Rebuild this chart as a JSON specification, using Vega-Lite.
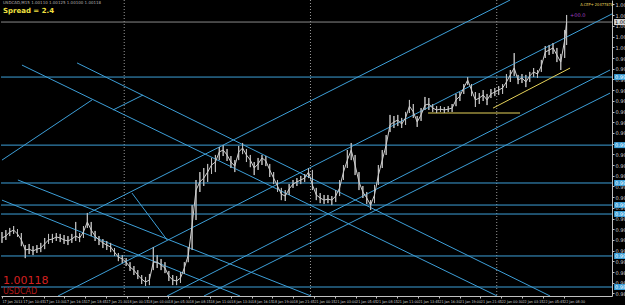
{
"$schema": "https://vega.github.io/schema/vega-lite/v6.json",
"width": 611, "height": 296,
"autosize": {"type": "none"},
"padding": {"left": 1, "top": 0, "right": 13, "bottom": 9},
"background": "#000000",
"config": {"view": {"stroke": null}, "font": "DejaVu Sans",
  "axis": {"labelOverlap": false, "labelFontSize": 5, "labelColor": "#d0d0d0", "labelPadding": 1, "tickSize": 2, "tickColor": "#c0c0c0", "domainColor": "#c0c0c0", "grid": false, "title": null, "labelFlush": false, "labelBound": false}},
"datasets": {
"px": [
{"b":0,"c":0.99109,"h":0.99137,"l":0.99086},{"b":2,"c":0.99118,"h":0.99146,"l":0.991},{"b":4,"c":0.99137,"h":0.99156,"l":0.99118},{"b":6,"c":0.99146,"h":0.99165,"l":0.99128},{"b":8,"c":0.99128,"h":0.99151,"l":0.99114},{"b":10,"c":0.991,"h":0.99132,"l":0.99071},{"b":12,"c":0.99053,"h":0.99076,"l":0.99015},{"b":14,"c":0.99057,"h":0.99081,"l":0.99034},{"b":16,"c":0.99048,"h":0.99071,"l":0.99029},{"b":18,"c":0.99057,"h":0.99076,"l":0.99039},{"b":20,"c":0.99062,"h":0.99086,"l":0.99043},{"b":22,"c":0.99081,"h":0.99109,"l":0.99057},{"b":24,"c":0.991,"h":0.99128,"l":0.99081},{"b":26,"c":0.99104,"h":0.99128,"l":0.99086},{"b":28,"c":0.99114,"h":0.99132,"l":0.99095},{"b":30,"c":0.99109,"h":0.99128,"l":0.9909},{"b":32,"c":0.991,"h":0.99123,"l":0.99081},{"b":34,"c":0.99095,"h":0.99118,"l":0.99076},{"b":36,"c":0.99104,"h":0.99128,"l":0.99086},{"b":38,"c":0.99118,"h":0.99184,"l":0.99095},{"b":40,"c":0.99109,"h":0.99132,"l":0.9909},{"b":42,"c":0.99137,"h":0.99165,"l":0.99109},{"b":44,"c":0.99184,"h":0.99226,"l":0.99156},{"b":46,"c":0.99146,"h":0.99184,"l":0.99118},{"b":48,"c":0.99118,"h":0.99142,"l":0.99095},{"b":50,"c":0.991,"h":0.99118,"l":0.99076},{"b":52,"c":0.99086,"h":0.99104,"l":0.99062},{"b":54,"c":0.99076,"h":0.99095,"l":0.99053},{"b":56,"c":0.99067,"h":0.99086,"l":0.99043},{"b":58,"c":0.99043,"h":0.99062,"l":0.99025},{"b":60,"c":0.9902,"h":0.99039,"l":0.99001},{"b":62,"c":0.99011,"h":0.99029,"l":0.98991},{"b":64,"c":0.98996,"h":0.99015,"l":0.98978},{"b":66,"c":0.98973,"h":0.98996,"l":0.98955},{"b":68,"c":0.98959,"h":0.98978,"l":0.98936},{"b":70,"c":0.98936,"h":0.98959,"l":0.98917},{"b":72,"c":0.98917,"h":0.98936,"l":0.98894},{"b":74,"c":0.98903,"h":0.98927,"l":0.98885},{"b":76,"c":0.98913,"h":0.98941,"l":0.98889},{"b":78,"c":0.98996,"h":0.99067,"l":0.98959},{"b":80,"c":0.98996,"h":0.99029,"l":0.98969},{"b":82,"c":0.98983,"h":0.99011,"l":0.98959},{"b":84,"c":0.98969,"h":0.98996,"l":0.98945},{"b":86,"c":0.98931,"h":0.98955,"l":0.98908},{"b":88,"c":0.98913,"h":0.98936,"l":0.98889},{"b":90,"c":0.98908,"h":0.98931,"l":0.98889},{"b":92,"c":0.98922,"h":0.9895,"l":0.98899},{"b":94,"c":0.98969,"h":0.98996,"l":0.98941},{"b":96,"c":0.99029,"h":0.99067,"l":0.98996},{"b":98,"c":0.9917,"h":0.99263,"l":0.99053},{"b":100,"c":0.99333,"h":0.9938,"l":0.99193},{"b":102,"c":0.99371,"h":0.99417,"l":0.99324},{"b":104,"c":0.99389,"h":0.99436,"l":0.99352},{"b":106,"c":0.99417,"h":0.99455,"l":0.99371},{"b":108,"c":0.9945,"h":0.99483,"l":0.99408},{"b":110,"c":0.99464,"h":0.99497,"l":0.99417},{"b":112,"c":0.99511,"h":0.99534,"l":0.99473},{"b":114,"c":0.9952,"h":0.99543,"l":0.99492},{"b":116,"c":0.99497,"h":0.99525,"l":0.99469},{"b":118,"c":0.99464,"h":0.99492,"l":0.99436},{"b":120,"c":0.99445,"h":0.99473,"l":0.99417},{"b":122,"c":0.99511,"h":0.99539,"l":0.99473},{"b":124,"c":0.99529,"h":0.99553,"l":0.99501},{"b":126,"c":0.99497,"h":0.99525,"l":0.99464},{"b":128,"c":0.99473,"h":0.99497,"l":0.9944},{"b":130,"c":0.99436,"h":0.99464,"l":0.99403},{"b":132,"c":0.99455,"h":0.99483,"l":0.99427},{"b":134,"c":0.99483,"h":0.99497,"l":0.9945},{"b":136,"c":0.99469,"h":0.99492,"l":0.99445},{"b":138,"c":0.99427,"h":0.99455,"l":0.99394},{"b":140,"c":0.99389,"h":0.99417,"l":0.99361},{"b":142,"c":0.99352,"h":0.9938,"l":0.99324},{"b":144,"c":0.99314,"h":0.99343,"l":0.99286},{"b":146,"c":0.99305,"h":0.99333,"l":0.99282},{"b":148,"c":0.99338,"h":0.99361,"l":0.9931},{"b":150,"c":0.99361,"h":0.9938,"l":0.99343},{"b":152,"c":0.99371,"h":0.99389,"l":0.99352},{"b":154,"c":0.9938,"h":0.99399,"l":0.99361},{"b":156,"c":0.99389,"h":0.99408,"l":0.99371},{"b":158,"c":0.99417,"h":0.99436,"l":0.99389},{"b":160,"c":0.99357,"h":0.99427,"l":0.99333},{"b":162,"c":0.9931,"h":0.99343,"l":0.99286},{"b":164,"c":0.99296,"h":0.99319,"l":0.99272},{"b":166,"c":0.99286,"h":0.9931,"l":0.99268},{"b":168,"c":0.99291,"h":0.9931,"l":0.99272},{"b":170,"c":0.99286,"h":0.99305,"l":0.99263},{"b":172,"c":0.99305,"h":0.99333,"l":0.99277},{"b":174,"c":0.99343,"h":0.9938,"l":0.99305},{"b":176,"c":0.99417,"h":0.9945,"l":0.9938},{"b":178,"c":0.99473,"h":0.9952,"l":0.99436},{"b":180,"c":0.9952,"h":0.99553,"l":0.99473},{"b":182,"c":0.9945,"h":0.99497,"l":0.99403},{"b":184,"c":0.99371,"h":0.99417,"l":0.99333},{"b":186,"c":0.99324,"h":0.99352,"l":0.99296},{"b":188,"c":0.99296,"h":0.99324,"l":0.99268},{"b":190,"c":0.99263,"h":0.99286,"l":0.9924},{"b":192,"c":0.9931,"h":0.99357,"l":0.99272},{"b":194,"c":0.99403,"h":0.9945,"l":0.99357},{"b":196,"c":0.99473,"h":0.9952,"l":0.99436},{"b":198,"c":0.99543,"h":0.9959,"l":0.99497},{"b":200,"c":0.99637,"h":0.99684,"l":0.99604},{"b":202,"c":0.99651,"h":0.99679,"l":0.99623},{"b":204,"c":0.9966,"h":0.99684,"l":0.99632},{"b":206,"c":0.99641,"h":0.9967,"l":0.99623},{"b":208,"c":0.9967,"h":0.99698,"l":0.99637},{"b":210,"c":0.99725,"h":0.99754,"l":0.99693},{"b":212,"c":0.99698,"h":0.99735,"l":0.9967},{"b":214,"c":0.99651,"h":0.99679,"l":0.99628},{"b":216,"c":0.99684,"h":0.99716,"l":0.99656},{"b":218,"c":0.9973,"h":0.99768,"l":0.99707},{"b":220,"c":0.99735,"h":0.99763,"l":0.99707},{"b":222,"c":0.99716,"h":0.99735,"l":0.99698},{"b":224,"c":0.99707,"h":0.99725,"l":0.99693},{"b":226,"c":0.99711,"h":0.99725,"l":0.99698},{"b":228,"c":0.99707,"h":0.99721,"l":0.99693},{"b":230,"c":0.99711,"h":0.99725,"l":0.99698},{"b":232,"c":0.99716,"h":0.99735,"l":0.99698},{"b":234,"c":0.99754,"h":0.99782,"l":0.99725},{"b":236,"c":0.99772,"h":0.99791,"l":0.99749},{"b":238,"c":0.9981,"h":0.99828,"l":0.99782},{"b":240,"c":0.99847,"h":0.99861,"l":0.99824},{"b":242,"c":0.998,"h":0.99828,"l":0.99772},{"b":244,"c":0.99754,"h":0.99791,"l":0.99721},{"b":246,"c":0.99763,"h":0.99786,"l":0.99735},{"b":248,"c":0.99777,"h":0.998,"l":0.99749},{"b":250,"c":0.99754,"h":0.99782,"l":0.9973},{"b":252,"c":0.99782,"h":0.99805,"l":0.99763},{"b":254,"c":0.99791,"h":0.9981,"l":0.99772},{"b":256,"c":0.998,"h":0.99819,"l":0.99777},{"b":258,"c":0.9981,"h":0.99828,"l":0.99782},{"b":260,"c":0.99838,"h":0.99875,"l":0.9981},{"b":262,"c":0.99871,"h":0.99894,"l":0.99838},{"b":264,"c":0.99903,"h":0.99973,"l":0.99866},{"b":266,"c":0.99847,"h":0.99871,"l":0.99828},{"b":268,"c":0.99857,"h":0.99875,"l":0.99833},{"b":270,"c":0.99838,"h":0.99871,"l":0.99814},{"b":272,"c":0.99866,"h":0.99885,"l":0.99838},{"b":274,"c":0.99885,"h":0.99903,"l":0.99861},{"b":276,"c":0.99875,"h":0.99894,"l":0.99857},{"b":278,"c":0.99913,"h":0.99941,"l":0.99885},{"b":280,"c":0.99978,"h":1.00006,"l":0.9995},{"b":282,"c":0.99987,"h":1.00011,"l":0.99964},{"b":284,"c":0.99997,"h":1.0002,"l":0.99969},{"b":286,"c":0.99964,"h":0.99997,"l":0.99931},{"b":288,"c":0.99931,"h":0.99969,"l":0.99894},{"b":290,"c":1.00034,"h":1.00081,"l":0.9995},{"b":291,"c":1.00118,"h":1.00151,"l":1.00011}
],
"hlines": [{"p":0.99861},{"p":0.99543},{"p":0.99366},{"p":0.99263},{"p":0.99221},{"p":0.99025},{"p":0.9888}],
"days": [{"b":63},{"b":159},{"b":255}],
"blue": [
{"id":"L1","b":44.8,"p":0.99226},{"id":"L1","b":261.9,"p":1.00221},
{"id":"L2","b":28.9,"p":0.98838},{"id":"L2","b":314.4,"p":1.00156},
{"id":"L3","b":85.1,"p":0.98838},{"id":"L3","b":313.4,"p":0.99894},
{"id":"L4","b":104.1,"p":0.98838},{"id":"L4","b":313.4,"p":0.99786},
{"id":"D1","b":10.3,"p":0.99917},{"id":"D1","b":255.2,"p":0.98838},
{"id":"D2","b":38.7,"p":0.99927},{"id":"D2","b":282.5,"p":0.98838},
{"id":"D3","b":8.2,"p":0.9938},{"id":"D3","b":159.3,"p":0.98838},
{"id":"D4","b":0,"p":0.99286},{"id":"D4","b":122.7,"p":0.98838},
{"id":"S1","b":0,"p":0.99473},{"id":"S1","b":46.4,"p":0.99754},
{"id":"S2","b":57.2,"p":0.99707},{"id":"S2","b":72.7,"p":0.99777},
{"id":"T1","b":67,"p":0.99319},{"id":"T1","b":85.1,"p":0.991}
],
"yellow": [
{"id":"Y1","b":219.6,"p":0.99693},{"id":"Y1","b":267,"p":0.99693},
{"id":"Y2","b":253.1,"p":0.99716},{"id":"Y2","b":292.8,"p":0.99903}
]
},
"layer": [
{"data": {"name": "px"}, "mark": {"type": "rule", "color": "#bdbdbd", "strokeWidth": 1},
 "encoding": {
  "x": {"field": "b", "type": "quantitative", "title": null, "scale": {"domain": [-0.5, 314.4], "nice": false, "zero": false},
   "axis": {"orient": "bottom", "tickCount": 100, "labelOverlap": false, "labelFontSize": 3.7, "labelFont": "DejaVu Sans Condensed", "values": [0,10.72,21.44,32.16,42.88,53.6,64.32,75.04,85.76,96.48,107.2,117.92,128.64,139.36,150.08,160.8,171.52,182.24,192.96,203.68,214.4,225.12,235.84,246.56,257.28,268,278.72,289.44],
    "labelExpr": "datum.value < 1 ? '17 Jan 2013' : timeFormat(time(datetime(2013,0,17,8,15)) + floor(datum.value)*900000 + (datum.value >= 159 ? 172800000 : 0), '%d %b %H:%M')",
    "labelAlign": "left"}},
  "y": {"field": "l", "type": "quantitative", "title": null, "scale": {"domain": [0.98838, 1.00221], "nice": false, "zero": false},
   "axis": {"orient": "right", "tickCount": 100, "labelOverlap": false, "values": [0.9885,0.989,0.9895,0.99,0.9905,0.991,0.9915,0.992,0.9925,0.993,0.9935,0.994,0.9945,0.995,0.9955,0.996,0.9965,0.997,0.9975,0.998,0.9985,0.999,0.9995,1.0,1.0005,1.001,1.0015,1.002], "format": ".4f"}},
  "y2": {"field": "h"}}},
{"data": {"name": "days"}, "mark": {"type": "rule", "color": "#9a9a9a", "strokeDash": [1, 2], "strokeWidth": 1},
 "encoding": {"x": {"field": "b", "type": "quantitative", "title": null}}},
{"data": {"name": "hlines"}, "mark": {"type": "rule", "color": "#3d9fd8", "strokeWidth": 1},
 "encoding": {"y": {"field": "p", "type": "quantitative", "title": null}}},
{"data": {"values": [{"p": 1.00118}]}, "mark": {"type": "rule", "color": "#8a8a8a", "strokeWidth": 1},
 "encoding": {"y": {"field": "p", "type": "quantitative", "title": null}}},
{"data": {"name": "blue"}, "mark": {"type": "line", "color": "#3d9fd8", "strokeWidth": 1, "clip": true},
 "encoding": {"x": {"field": "b", "type": "quantitative", "title": null}, "y": {"field": "p", "type": "quantitative", "title": null}, "detail": {"field": "id"}}},
{"data": {"name": "yellow"}, "mark": {"type": "line", "color": "#e6d35a", "strokeWidth": 1, "clip": true},
 "encoding": {"x": {"field": "b", "type": "quantitative", "title": null}, "y": {"field": "p", "type": "quantitative", "title": null}, "detail": {"field": "id"}}},
{"data": {"name": "px"}, "mark": {"type": "rule", "color": "#bdbdbd", "strokeWidth": 1},
 "encoding": {"x": {"field": "b", "type": "quantitative", "title": null}, "y": {"field": "l", "type": "quantitative", "title": null}, "y2": {"field": "h"}}},
{"data": {"name": "px"}, "mark": {"type": "line", "color": "#cfcfcf", "strokeWidth": 1},
 "encoding": {"x": {"field": "b", "type": "quantitative", "title": null}, "y": {"field": "c", "type": "quantitative", "title": null}}},
{"data": {"name": "hlines"}, "mark": {"type": "rule", "color": "#3d9fd8", "strokeWidth": 6, "clip": false},
 "encoding": {"y": {"field": "p", "type": "quantitative", "title": null}, "x": {"datum": 315.5}, "x2": {"datum": 322}}},
{"data": {"name": "hlines"}, "mark": {"type": "text", "align": "left", "baseline": "middle", "fontSize": 5, "color": "#ffffff", "dx": 3, "clip": false},
 "encoding": {"y": {"field": "p", "type": "quantitative", "title": null}, "x": {"datum": 314.4}, "text": {"field": "p", "format": ".4f"}}},
{"data": {"values": [{"p": 1.00118}]}, "mark": {"type": "rule", "color": "#d8d8d8", "strokeWidth": 6, "clip": false},
 "encoding": {"y": {"field": "p", "type": "quantitative", "title": null}, "x": {"datum": 315.5}, "x2": {"datum": 322}}},
{"data": {"values": [{"p": 1.00118}]}, "mark": {"type": "text", "align": "left", "baseline": "middle", "fontSize": 5, "color": "#000000", "dx": 3, "clip": false},
 "encoding": {"y": {"field": "p", "type": "quantitative", "title": null}, "x": {"datum": 314.4}, "text": {"field": "p", "format": ".4f"}}},
{"data": {"values": [{"b": 0.5, "p": 1.00209, "t": "USDCAD,M15  1.00110 1.00125 1.00100 1.00118"}]}, "mark": {"type": "text", "align": "left", "baseline": "middle", "fontSize": 4, "color": "#b0b0b0"},
 "encoding": {"x": {"field": "b", "type": "quantitative", "title": null}, "y": {"field": "p", "type": "quantitative", "title": null}, "text": {"field": "t"}}},
{"data": {"values": [{"b": 0.5, "p": 1.0017, "t": "Spread = 2.4"}]}, "mark": {"type": "text", "align": "left", "baseline": "middle", "fontSize": 7, "fontWeight": "bold", "color": "#f0e040"},
 "encoding": {"x": {"field": "b", "type": "quantitative", "title": null}, "y": {"field": "p", "type": "quantitative", "title": null}, "text": {"field": "t"}}},
{"data": {"values": [{"b": 0.5, "p": 0.98908, "t": "1.00118"}]}, "mark": {"type": "text", "align": "left", "baseline": "middle", "fontSize": 11, "color": "#d42020"},
 "encoding": {"x": {"field": "b", "type": "quantitative", "title": null}, "y": {"field": "p", "type": "quantitative", "title": null}, "text": {"field": "t"}}},
{"data": {"values": [{"b": 0.5, "p": 0.98857, "t": "USDCAD"}]}, "mark": {"type": "text", "align": "left", "baseline": "middle", "fontSize": 8, "color": "#b01818"},
 "encoding": {"x": {"field": "b", "type": "quantitative", "title": null}, "y": {"field": "p", "type": "quantitative", "title": null}, "text": {"field": "t"}}},
{"data": {"values": [{"b": 298, "p": 1.00196, "t": "A.CEP+ 20477878"}]}, "mark": {"type": "text", "align": "left", "baseline": "middle", "fontSize": 4, "font": "DejaVu Sans Condensed", "color": "#e6d35a"},
 "encoding": {"x": {"field": "b", "type": "quantitative", "title": null}, "y": {"field": "p", "type": "quantitative", "title": null}, "text": {"field": "t"}}},
{"data": {"values": [{"b": 292.8, "p": 1.00151, "t": "+00.0"}]}, "mark": {"type": "text", "align": "left", "baseline": "middle", "fontSize": 5, "color": "#a040c0"},
 "encoding": {"x": {"field": "b", "type": "quantitative", "title": null}, "y": {"field": "p", "type": "quantitative", "title": null}, "text": {"field": "t"}}}
]
}
